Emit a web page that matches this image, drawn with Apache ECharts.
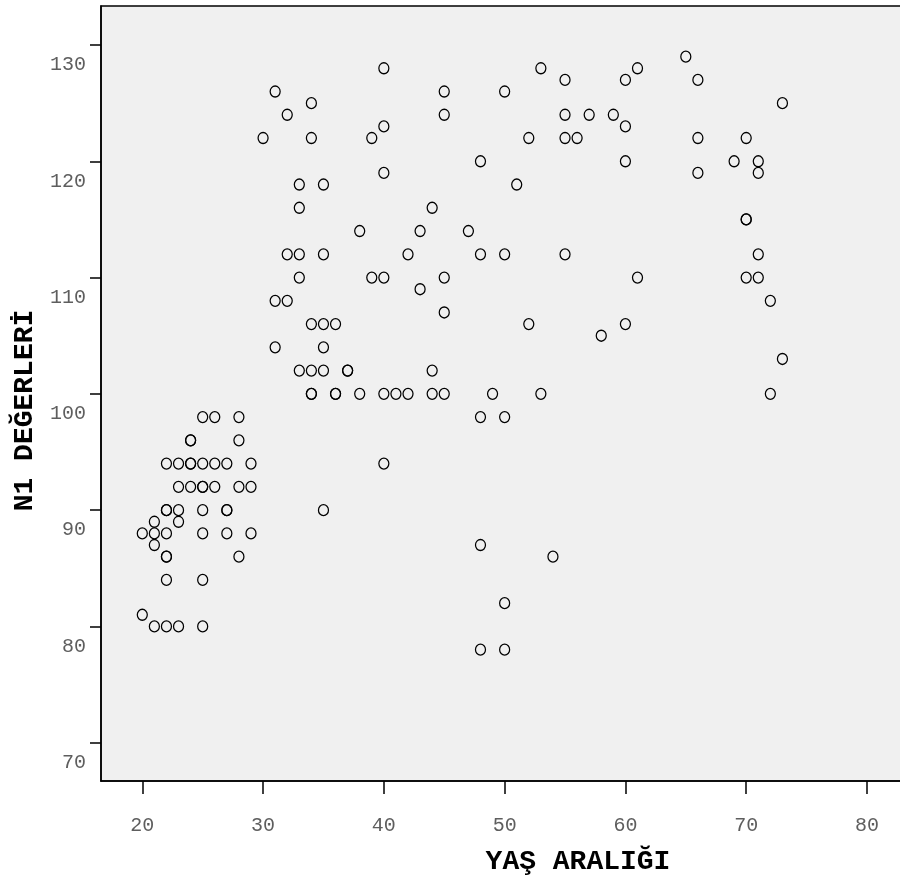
<!DOCTYPE html>
<html>
<head>
<meta charset="utf-8">
<title>N1 DEĞERLERİ / YAŞ ARALIĞI</title>
<script src="https://cdn.jsdelivr.net/npm/echarts@6/dist/echarts.min.js"></script>
<style>
  html, body { margin: 0; padding: 0; background: #ffffff; }
  #chart { width: 900px; height: 880px; }
</style>
</head>
<body>
<div id="chart"></div>
<script>
// Age of each subject (x) and the matching N1 value (y), one entry per subject.
const ages = [
  20, 20,
  21, 21, 21, 21,
  22, 22, 22, 22, 22, 22, 22, 22,
  23, 23, 23, 23, 23,
  24, 24, 24, 24, 24,
  25, 25, 25, 25, 25, 25, 25, 25,
  26, 26, 26,
  27, 27, 27, 27,
  28, 28, 28, 28,
  29, 29, 29,
  30,
  31, 31, 31,
  32, 32, 32,
  33, 33, 33, 33, 33,
  34, 34, 34, 34, 34, 34,
  35, 35, 35, 35, 35, 35,
  36, 36, 36,
  37, 37,
  38, 38,
  39, 39,
  40, 40, 40, 40, 40, 40,
  41,
  42, 42,
  43, 43,
  44, 44, 44,
  45, 45, 45, 45, 45,
  47,
  48, 48, 48, 48, 48,
  49,
  50, 50, 50, 50, 50,
  51,
  52, 52,
  53, 53,
  54,
  55, 55, 55, 55,
  56,
  57,
  58,
  59,
  60, 60, 60, 60,
  61, 61,
  65,
  66, 66, 66,
  69,
  70, 70, 70, 70,
  71, 71, 71, 71,
  72, 72,
  73, 73
];

const n1Values = [
  88, 81,
  89, 88, 87, 80,
  94, 90, 90, 88, 86, 86, 84, 80,
  94, 92, 90, 89, 80,
  96, 96, 94, 94, 92,
  98, 94, 92, 92, 90, 88, 84, 80,
  98, 94, 92,
  94, 90, 90, 88,
  98, 96, 92, 86,
  94, 92, 88,
  122,
  126, 108, 104,
  124, 112, 108,
  118, 116, 112, 110, 102,
  125, 122, 106, 102, 100, 100,
  118, 112, 106, 104, 102, 90,
  106, 100, 100,
  102, 102,
  114, 100,
  122, 110,
  128, 123, 119, 110, 100, 94,
  100,
  112, 100,
  114, 109,
  116, 102, 100,
  126, 124, 110, 107, 100,
  114,
  120, 112, 98, 87, 78,
  100,
  126, 112, 98, 82, 78,
  118,
  122, 106,
  128, 100,
  86,
  127, 124, 122, 112,
  122,
  124,
  105,
  124,
  127, 123, 120, 106,
  128, 110,
  129,
  127, 122, 119,
  120,
  122, 115, 115, 110,
  120, 119, 112, 110,
  108, 100,
  125, 103
];

const xTickValues = [20, 30, 40, 50, 60, 70, 80];
const yTickValues = [70, 80, 90, 100, 110, 120, 130];
const xAxisTitle = 'YAŞ ARALIĞI';
const yAxisTitle = 'N1 DEĞERLERİ';

const points = ages.map((a, i) => [a, n1Values[i]]);

const labelFont = {
  fontFamily: '"Liberation Mono", "DejaVu Sans Mono", monospace',
  fontSize: 20,
  color: '#5e5e5e'
};
const titleFont = {
  fontFamily: '"Liberation Mono", "DejaVu Sans Mono", monospace',
  fontSize: 28,
  fontWeight: 'bold',
  color: '#000000'
};

const chart = echarts.init(document.getElementById('chart'), null, { renderer: 'canvas' });

chart.setOption({
  animation: false,
  backgroundColor: '#ffffff',
  grid: {
    left: 101,
    top: 6,
    width: 954,
    height: 775,
    show: true,
    backgroundColor: '#f0f0f0',
    borderColor: '#000000',
    borderWidth: 1.5,
    containLabel: false,
    outerBoundsMode: 'none'
  },
  xAxis: {
    type: 'value',
    min: 16.581,
    max: 95.567,
    name: xAxisTitle,
    nameLocation: 'middle',
    nameGap: 67,
    nameTextStyle: titleFont,
    splitLine: { show: false },
    axisLine: { show: true, onZero: false, lineStyle: { color: '#000000', width: 1.5 } },
    axisTick: {
      show: true,
      inside: false,
      length: 13,
      customValues: xTickValues,
      lineStyle: { color: '#000000', width: 1.5 }
    },
    axisLabel: Object.assign({
      show: true,
      margin: 35,
      customValues: xTickValues,
      formatter: v => String(v)
    }, labelFont)
  },
  yAxis: {
    type: 'value',
    min: 66.706,
    max: 133.354,
    name: yAxisTitle,
    nameLocation: 'middle',
    nameRotate: 90,
    nameGap: 61,
    nameTextStyle: Object.assign({ padding: [0, 34, 0, 0] }, titleFont),
    splitLine: { show: false },
    axisLine: { show: true, onZero: false, lineStyle: { color: '#000000', width: 1.5 } },
    axisTick: {
      show: true,
      inside: false,
      length: 11,
      customValues: yTickValues,
      lineStyle: { color: '#000000', width: 1.5 }
    },
    axisLabel: Object.assign({
      show: true,
      margin: 15,
      verticalAlign: 'top',
      lineHeight: 20,
      padding: [10, 0, 0, 0],
      customValues: yTickValues,
      formatter: v => String(v)
    }, labelFont)
  },
  series: [{
    type: 'scatter',
    data: points,
    symbol: 'circle',
    symbolSize: [10, 11],
    silent: true,
    itemStyle: {
      color: 'rgba(0,0,0,0)',
      borderColor: '#000000',
      borderWidth: 1.3,
      opacity: 1
    },
    emphasis: { disabled: true }
  }]
});
</script>
</body>
</html>
